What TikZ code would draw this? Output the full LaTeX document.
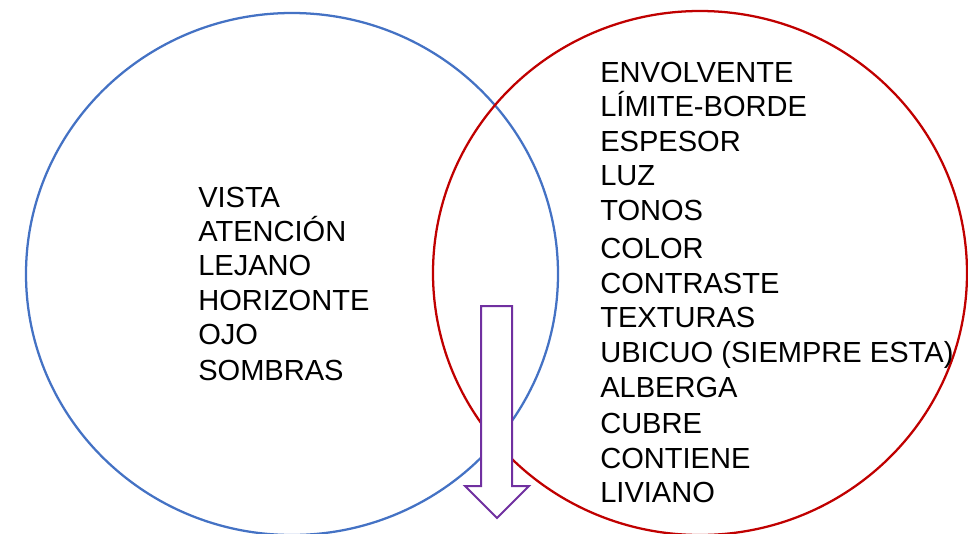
\documentclass[tikz,border=0pt]{standalone}
\usepackage{fontspec}
\setmainfont{Liberation Sans}
\usetikzlibrary{shapes.geometric}

\definecolor{vennblue}{HTML}{4472C4}
\definecolor{vennred}{HTML}{C00000}
\definecolor{vennpurple}{HTML}{7030A0}

\begin{document}
\begin{tikzpicture}[x=0.75pt,y=-0.75pt]

      \useasboundingbox (0,0) rectangle (968,533);

      % the two sets
      \draw[vennblue,line width=1.7pt] (292,274) ellipse [x radius=266, y radius=261];
      \draw[vennred,line width=1.7pt] (700,273) ellipse [x radius=267, y radius=262];

      % arrow down through the overlap
      \draw[vennpurple,line width=1.5pt,line join=miter,fill=white]
        (481,306) -- (512,306) -- (512,486) -- (529,486) -- (497,518)
        -- (465,486) -- (481,486) -- cycle;

      \begin{scope}[every node/.style={anchor=base west,inner sep=0pt,
          font=\fontsize{21.8}{26}\selectfont}]
        \node (v1) at (198,207) {VISTA};
        \node (v2) at (198,241) {ATENCIÓN};
        \node (v3) at (198,275) {LEJANO};
        \node (v4) at (198,310) {HORIZONTE};
        \node (v5) at (198,344) {OJO};
        \node (v6) at (198,380) {SOMBRAS};

        \node (e1)  at (600,82)  {ENVOLVENTE};
        \node (e2)  at (600,116) {LÍMITE-BORDE};
        \node (e3)  at (600,151) {ESPESOR};
        \node (e4)  at (600,185) {LUZ};
        \node (e5)  at (600,220) {TONOS};
        \node (e6)  at (600,258) {COLOR};
        \node (e7)  at (600,293) {CONTRASTE};
        \node (e8)  at (600,327) {TEXTURAS};
        \node (e9)  at (600,362) {UBICUO (SIEMPRE ESTA)};
        \node (e10) at (600,397) {ALBERGA};
        \node (e11) at (600,433) {CUBRE};
        \node (e12) at (600,468) {CONTIENE};
        \node (e13) at (600,502) {LIVIANO};
      \end{scope}

    \end{tikzpicture}
\end{document}
